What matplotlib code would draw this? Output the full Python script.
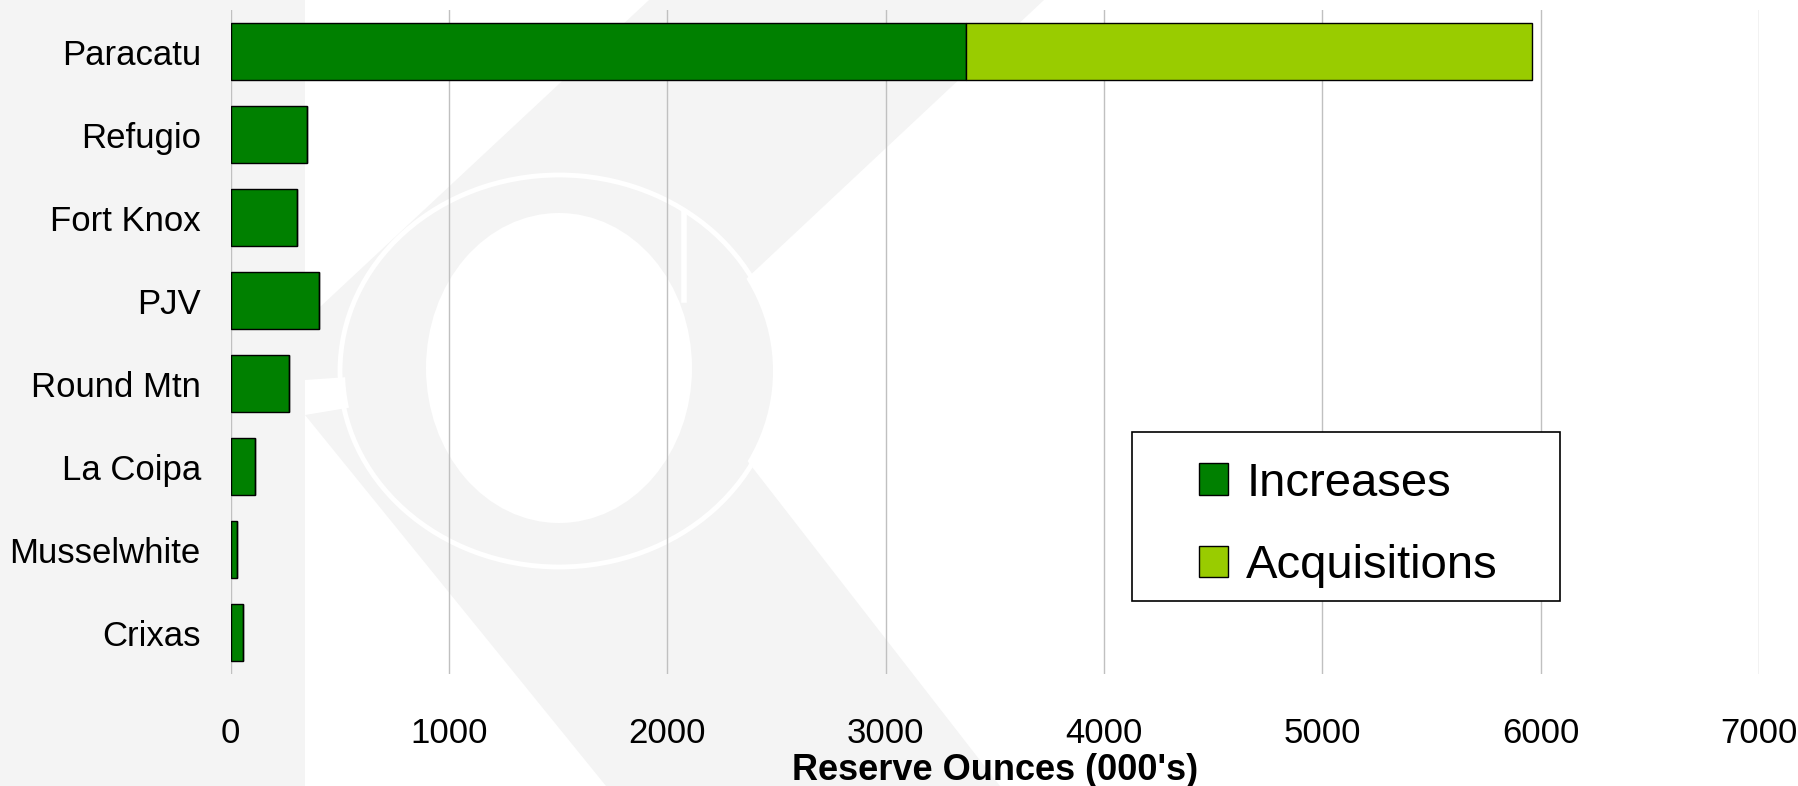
import matplotlib
matplotlib.use("Agg")
import matplotlib.pyplot as plt
from matplotlib.patches import Patch, Rectangle, Polygon, Ellipse

plt.rcParams['font.family'] = ['Liberation Sans', 'DejaVu Sans']

# data (000's oz)
mines = ["Paracatu", "Refugio", "Fort Knox", "PJV", "Round Mtn",
         "La Coipa", "Musselwhite", "Crixas"]
increases = [3370, 351, 305, 404, 268, 113, 30, 58]
acquisitions = [2590, 0, 0, 0, 0, 0, 0, 0]
xticks = [0, 1000, 2000, 3000, 4000, 5000, 6000, 7000]

W, H = 1798, 786
fig = plt.figure(figsize=(W / 100, H / 100), dpi=100)

# faint logo watermark behind the chart (pixel coords)
bg = fig.add_axes([0, 0, 1, 1], zorder=-1)
bg.set_xlim(0, W)
bg.set_ylim(H, 0)
bg.axis("off")
wm = "#f4f4f4"
bg.add_patch(Rectangle((0, 0), 305, H, color=wm, lw=0))
bg.add_patch(Polygon([(649, 0), (1044, 0), (665, 355), (305, 380), (305, 321)],
                     closed=True, color=wm, lw=0))
bg.add_patch(Polygon([(305, 415), (665, 355), (1000, 786), (606, 786)],
                     closed=True, color=wm, lw=0))
bg.add_patch(Ellipse((559, 371), 428, 382, color=wm, lw=0))
bg.add_patch(Ellipse((559, 371), 438, 392, facecolor="none",
                     edgecolor="white", lw=3.5))
bg.add_patch(Ellipse((559, 368), 266, 310, color="white", lw=0))
bg.plot([684, 684], [213, 300], color="white", lw=4)

ax = fig.add_axes([0.12831, 0.14249, 0.84989, 0.84478])
ax.patch.set_alpha(0)

ax.barh(mines, increases, height=0.675, color="#008000",
        edgecolor="black", linewidth=1.0, zorder=3)
ax.barh(mines, acquisitions, left=increases, height=0.675, color="#99cc00",
        edgecolor="black", linewidth=1.0, zorder=3)

ax.set_xlim(0, 7000)
ax.set_ylim(7.5, -0.5)
ax.set_xticks(xticks)
ax.grid(axis="x", color="#c0c0c0", linewidth=1.0)
ax.set_axisbelow(True)
for s in ax.spines.values():
    s.set_visible(False)
ax.tick_params(axis="x", length=0, pad=31, labelsize=25)
ax.tick_params(axis="y", length=0, pad=21.5, labelsize=25)

fig.text(0.5533, 6 / H, "Reserve Ounces (000's)", ha="center",
         va="baseline", fontsize=26, fontweight="bold")

# legend box
fig.patches.append(Rectangle((1132 / W, 1 - 601 / H), 428 / W, 169 / H,
                             transform=fig.transFigure, facecolor="white",
                             edgecolor="black", linewidth=1.2, zorder=4))
handles = [Patch(facecolor="#008000", edgecolor="black", linewidth=1.0),
           Patch(facecolor="#99cc00", edgecolor="black", linewidth=1.0)]
fig.legend(handles, ["Increases", "Acquisitions"], loc="center left",
           bbox_to_anchor=(1199 / W, 1 - 525 / H), frameon=False,
           fontsize=34, handlelength=0.62, handleheight=0.64,
           handletextpad=0.38, labelspacing=0.82, borderpad=0,
           borderaxespad=0)

fig.savefig("out.png", dpi=100)
